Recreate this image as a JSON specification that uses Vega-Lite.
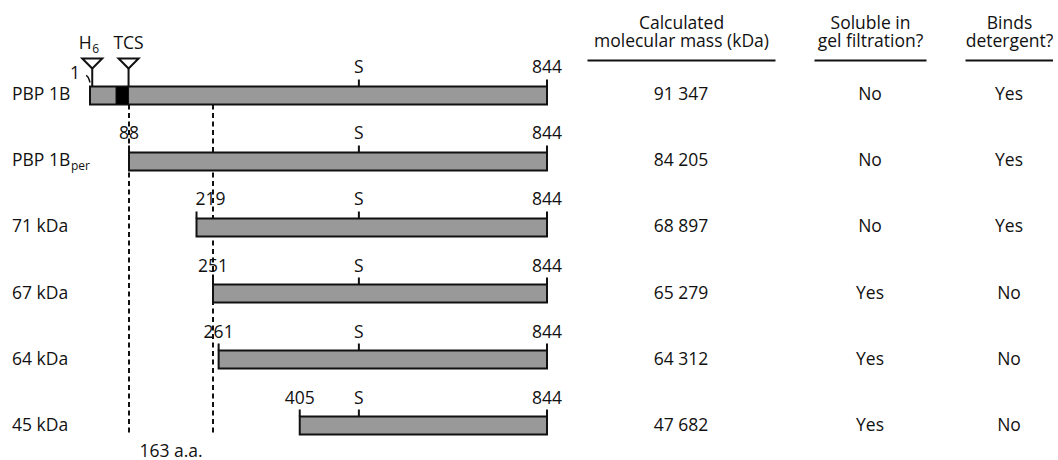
{
  "$schema": "https://vega.github.io/schema/vega-lite/v6.json",
  "padding": {"left": 0, "top": 14, "right": 0, "bottom": 0},
  "spacing": 39,
  "bounds": "flush",
  "config": {
    "view": {"stroke": null},
    "font": "Open Sans",
    "text": {"font": "Open Sans", "fontSize": 17.5, "color": "#111"},
    "axis": {
      "titleFont": "Open Sans",
      "titleFontSize": 17.5,
      "titleFontWeight": "normal",
      "titleColor": "#111",
      "titleLineHeight": 18,
      "titlePadding": 10
    }
  },
  "datasets": {
    "rows": [
      {"construct": "PBP 1B", "name": "PBP 1B", "sub": "", "start": 1, "serine": 510, "end": 844, "mass": "91 347", "soluble": "No", "detergent": "Yes"},
      {"construct": "PBP 1B per", "name": "PBP 1B", "sub": "per", "start": 88, "serine": 510, "end": 844, "mass": "84 205", "soluble": "No", "detergent": "Yes"},
      {"construct": "71 kDa", "name": "71 kDa", "sub": "", "start": 219, "serine": 510, "end": 844, "mass": "68 897", "soluble": "No", "detergent": "Yes"},
      {"construct": "67 kDa", "name": "67 kDa", "sub": "", "start": 251, "serine": 510, "end": 844, "mass": "65 279", "soluble": "Yes", "detergent": "No"},
      {"construct": "64 kDa", "name": "64 kDa", "sub": "", "start": 261, "serine": 510, "end": 844, "mass": "64 312", "soluble": "Yes", "detergent": "No"},
      {"construct": "45 kDa", "name": "45 kDa", "sub": "", "start": 405, "serine": 510, "end": 844, "mass": "47 682", "soluble": "Yes", "detergent": "No"}
    ],
    "features": [
      {"construct": "PBP 1B", "pos": 6, "name": "H", "sub": "6"},
      {"construct": "PBP 1B", "pos": 87, "name": "TCS", "sub": ""}
    ],
    "membrane": [{"construct": "PBP 1B", "from": 59, "to": 87}],
    "cuts": [{"residue": 88}, {"residue": 251}]
  },
  "hconcat": [
    {
      "width": 24,
      "height": 401,
      "data": {"name": "rows"},
      "layer": [
        {
          "mark": {"type": "text", "align": "left", "baseline": "middle"},
          "encoding": {
            "y": {"field": "construct", "type": "nominal", "axis": null,
              "scale": {"type": "band", "domain": ["PBP 1B", "PBP 1B per", "71 kDa", "67 kDa", "64 kDa", "45 kDa"], "paddingInner": 0.7273, "paddingOuter": 0.4015}},
            "text": {"field": "name"}
          }
        },
        {
          "transform": [{"filter": "datum.sub !== ''"}],
          "mark": {"type": "text", "align": "left", "baseline": "middle", "fontSize": 12, "dx": 59, "dy": 5},
          "encoding": {
            "y": {"field": "construct", "type": "nominal", "axis": null,
              "scale": {"type": "band", "domain": ["PBP 1B", "PBP 1B per", "71 kDa", "67 kDa", "64 kDa", "45 kDa"], "paddingInner": 0.7273, "paddingOuter": 0.4015}},
            "text": {"field": "sub"}
          }
        }
      ]
    },
    {
      "width": 485,
      "height": 401,
      "layer": [
        {
          "data": {"name": "cuts"},
          "mark": {"type": "rule", "strokeDash": [5, 3.5], "strokeWidth": 2, "color": "#111"},
          "encoding": {
            "x": {"field": "residue", "type": "quantitative", "axis": null,
              "scale": {"domain": [1, 88, 251, 844], "range": [27, 66, 150, 484], "nice": false, "zero": false}},
            "y": {"datum": "PBP 1B", "type": "nominal", "bandPosition": 1, "axis": null,
              "scale": {"type": "band", "domain": ["PBP 1B", "PBP 1B per", "71 kDa", "67 kDa", "64 kDa", "45 kDa"], "paddingInner": 0.7273, "paddingOuter": 0.4015}},
            "y2": {"datum": "45 kDa", "bandPosition": 1}
          }
        },
        {
          "data": {"name": "cuts"},
          "transform": [
            {"aggregate": [{"op": "min", "field": "residue", "as": "lo"}, {"op": "max", "field": "residue", "as": "hi"}]},
            {"calculate": "(datum.lo + datum.hi) / 2", "as": "mid"},
            {"calculate": "(datum.hi - datum.lo) + ' a.a.'", "as": "label"}
          ],
          "mark": {"type": "text", "align": "center", "baseline": "middle", "dy": 26},
          "encoding": {
            "x": {"field": "mid", "type": "quantitative"},
            "y": {"datum": "45 kDa", "type": "nominal"},
            "text": {"field": "label"}
          }
        },
        {
          "data": {"name": "rows"},
          "mark": {"type": "bar", "fill": "#999999", "stroke": "#111", "strokeWidth": 2},
          "encoding": {
            "x": {"field": "start", "type": "quantitative"},
            "x2": {"field": "end"},
            "y": {"field": "construct", "type": "nominal"}
          }
        },
        {
          "data": {"name": "membrane"},
          "mark": {"type": "bar", "fill": "#000", "stroke": "#111", "strokeWidth": 1},
          "encoding": {
            "x": {"field": "from", "type": "quantitative"},
            "x2": {"field": "to"},
            "y": {"field": "construct", "type": "nominal"}
          }
        },
        {
          "data": {"name": "rows"},
          "transform": [
            {"fold": ["start", "serine", "end"], "as": ["kind", "pos"]},
            {"filter": "!(datum.construct === 'PBP 1B' && datum.kind === 'start')"}
          ],
          "mark": {"type": "tick", "orient": "vertical", "size": 7, "thickness": 2, "yOffset": -12.5, "color": "#111", "opacity": 1},
          "encoding": {
            "x": {"field": "pos", "type": "quantitative"},
            "y": {"field": "construct", "type": "nominal"}
          }
        },
        {
          "data": {"name": "rows"},
          "transform": [
            {"fold": ["start", "serine", "end"], "as": ["kind", "pos"]},
            {"filter": "!(datum.construct === 'PBP 1B' && datum.kind === 'start')"},
            {"filter": "!(datum.kind === 'start' && datum.pos > 88 && datum.pos < 251)"},
            {"calculate": "datum.kind === 'serine' ? 'S' : '' + datum.pos", "as": "label"}
          ],
          "mark": {"type": "text", "align": "center", "baseline": "alphabetic", "dy": -22},
          "encoding": {
            "x": {"field": "pos", "type": "quantitative"},
            "y": {"field": "construct", "type": "nominal"},
            "text": {"field": "label"}
          }
        },
        {
          "data": {"name": "rows"},
          "transform": [
            {"filter": "datum.start > 88 && datum.start < 251"}
          ],
          "mark": {"type": "text", "align": "left", "baseline": "alphabetic", "dx": -1, "dy": -22},
          "encoding": {
            "x": {"field": "start", "type": "quantitative"},
            "y": {"field": "construct", "type": "nominal"},
            "text": {"field": "start"}
          }
        },
        {
          "data": {"name": "rows"},
          "transform": [{"filter": "datum.construct === 'PBP 1B'"}],
          "mark": {"type": "text", "align": "right", "baseline": "alphabetic", "dx": -10, "dy": -16},
          "encoding": {
            "x": {"field": "start", "type": "quantitative"},
            "y": {"field": "construct", "type": "nominal"},
            "text": {"field": "start"}
          }
        },
        {
          "data": {"name": "rows"},
          "transform": [{"filter": "datum.construct === 'PBP 1B'"}],
          "mark": {"type": "point", "shape": "M-0.57,-1Q0.1,-0.9 0.57,1", "size": 49, "filled": false, "stroke": "#111", "strokeWidth": 1.5, "xOffset": -2, "yOffset": -16.5, "opacity": 1},
          "encoding": {
            "x": {"field": "start", "type": "quantitative"},
            "y": {"field": "construct", "type": "nominal"}
          }
        },
        {
          "data": {"name": "features"},
          "mark": {"type": "tick", "orient": "vertical", "size": 18, "thickness": 2, "yOffset": -18, "color": "#111", "opacity": 1},
          "encoding": {
            "x": {"field": "pos", "type": "quantitative"},
            "y": {"field": "construct", "type": "nominal"}
          }
        },
        {
          "data": {"name": "features"},
          "mark": {"type": "point", "shape": "M-1,-0.5L1,-0.5L0,0.5Z", "size": 400, "filled": true, "fill": "#fff", "stroke": "#111", "strokeWidth": 2, "yOffset": -32, "opacity": 1},
          "encoding": {
            "x": {"field": "pos", "type": "quantitative"},
            "y": {"field": "construct", "type": "nominal"}
          }
        },
        {
          "data": {"name": "features"},
          "transform": [{"filter": "datum.sub === ''"}],
          "mark": {"type": "text", "align": "center", "baseline": "alphabetic", "dy": -46},
          "encoding": {
            "x": {"field": "pos", "type": "quantitative"},
            "y": {"field": "construct", "type": "nominal"},
            "text": {"field": "name"}
          }
        },
        {
          "data": {"name": "features"},
          "transform": [{"filter": "datum.sub !== ''"}],
          "mark": {"type": "text", "align": "right", "baseline": "alphabetic", "dx": -0.5, "dy": -46},
          "encoding": {
            "x": {"field": "pos", "type": "quantitative"},
            "y": {"field": "construct", "type": "nominal"},
            "text": {"field": "name"}
          }
        },
        {
          "data": {"name": "features"},
          "transform": [{"filter": "datum.sub !== ''"}],
          "mark": {"type": "text", "align": "left", "baseline": "alphabetic", "fontSize": 12, "dx": 0, "dy": -42},
          "encoding": {
            "x": {"field": "pos", "type": "quantitative"},
            "y": {"field": "construct", "type": "nominal"},
            "text": {"field": "sub"}
          }
        }
      ]
    },
    {
      "width": 188,
      "height": 401,
      "data": {"name": "rows"},
      "mark": {"type": "text", "align": "center", "baseline": "middle"},
      "encoding": {
        "x": {"datum": "mass", "type": "nominal",
          "axis": {"orient": "top", "labels": false, "ticks": false, "grid": false, "domain": true, "domainColor": "#111", "domainWidth": 2, "title": ["Calculated", "molecular mass (kDa)"]}},
        "y": {"field": "construct", "type": "nominal", "axis": null,
          "scale": {"type": "band", "domain": ["PBP 1B", "PBP 1B per", "71 kDa", "67 kDa", "64 kDa", "45 kDa"], "paddingInner": 0.7273, "paddingOuter": 0.4015}},
        "text": {"field": "mass"}
      }
    },
    {
      "width": 112,
      "height": 401,
      "data": {"name": "rows"},
      "mark": {"type": "text", "align": "center", "baseline": "middle"},
      "encoding": {
        "x": {"datum": "soluble", "type": "nominal",
          "axis": {"orient": "top", "labels": false, "ticks": false, "grid": false, "domain": true, "domainColor": "#111", "domainWidth": 2, "title": ["Soluble in", "gel filtration?"]}},
        "y": {"field": "construct", "type": "nominal", "axis": null,
          "scale": {"type": "band", "domain": ["PBP 1B", "PBP 1B per", "71 kDa", "67 kDa", "64 kDa", "45 kDa"], "paddingInner": 0.7273, "paddingOuter": 0.4015}},
        "text": {"field": "soluble"}
      }
    },
    {
      "width": 88,
      "height": 401,
      "data": {"name": "rows"},
      "mark": {"type": "text", "align": "center", "baseline": "middle"},
      "encoding": {
        "x": {"datum": "detergent", "type": "nominal",
          "axis": {"orient": "top", "labels": false, "ticks": false, "grid": false, "domain": true, "domainColor": "#111", "domainWidth": 2, "title": ["Binds", "detergent?"]}},
        "y": {"field": "construct", "type": "nominal", "axis": null,
          "scale": {"type": "band", "domain": ["PBP 1B", "PBP 1B per", "71 kDa", "67 kDa", "64 kDa", "45 kDa"], "paddingInner": 0.7273, "paddingOuter": 0.4015}},
        "text": {"field": "detergent"}
      }
    }
  ]
}
